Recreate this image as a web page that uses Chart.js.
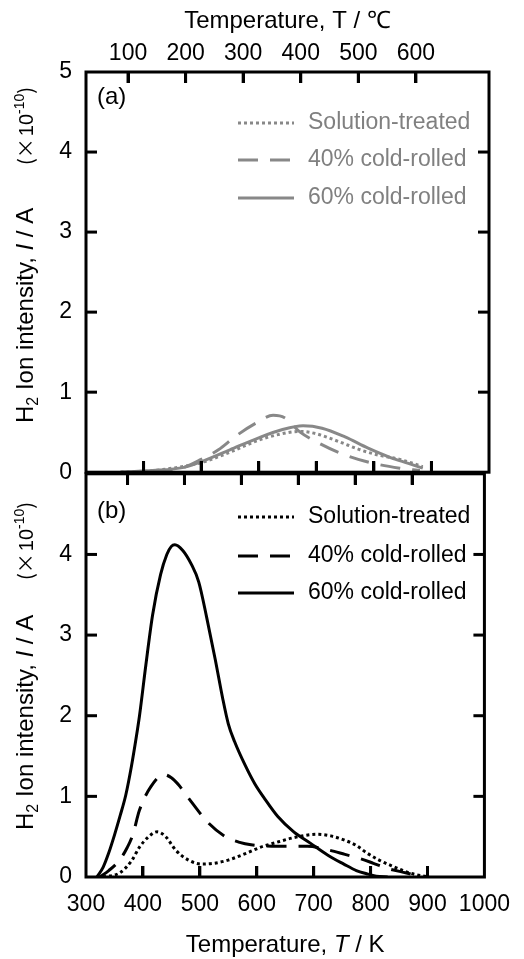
<!DOCTYPE html>
<html>
<head>
<meta charset="utf-8">
<script src="https://cdn.jsdelivr.net/npm/chart.js@4.4.0/dist/chart.umd.min.js"></script>
<style>
  body { margin: 0; background: #fff; }
  #wrap { position: relative; width: 524px; height: 959px; }
  canvas { position: absolute; left: 0; }
  #chartA { top: 0; }
  #chartB { top: 446px; }
  .tick { position: absolute; background: #000; z-index: 5; }
</style>
</head>
<body>
<div id="wrap">
  <canvas id="chartA" width="524" height="500"></canvas>
  <canvas id="chartB" width="524" height="513"></canvas>
</div>
<script>
// panel (a) - temperature (K) / intensity (x1e-10 A)
var tSolA = [360, 416, 450, 500, 550, 600, 640, 672, 700, 740, 776, 810, 845, 885];
var iSolA = [0, 0.02, 0.05, 0.12, 0.25, 0.40, 0.48, 0.51, 0.48, 0.38, 0.28, 0.21, 0.16, 0.07];
var t40A = [360, 440, 470, 500, 530, 560, 597, 625, 645, 672, 700, 741, 788, 845, 880];
var i40A = [0, 0.02, 0.06, 0.16, 0.28, 0.45, 0.62, 0.71, 0.68, 0.50, 0.38, 0.24, 0.13, 0.05, 0.02];
var t60A = [360, 416, 470, 500, 550, 600, 640, 677, 710, 750, 790, 830, 860, 885];
var i60A = [0, 0.02, 0.06, 0.13, 0.28, 0.43, 0.53, 0.58, 0.55, 0.44, 0.30, 0.18, 0.11, 0.05];

// panel (b)
var tSolB = [330, 359, 380, 394, 410, 425, 440, 458, 480, 503, 525, 550, 580, 607, 640, 666, 706, 730, 753, 775, 793, 815, 840, 868, 903];
var iSolB = [0, 0.05, 0.2, 0.37, 0.5, 0.56, 0.5, 0.33, 0.21, 0.16, 0.17, 0.21, 0.29, 0.37, 0.44, 0.49, 0.53, 0.51, 0.46, 0.39, 0.30, 0.21, 0.13, 0.05, 0];
var t40B = [324, 340, 359, 372, 382, 394, 414, 437, 450, 463, 480, 515, 545, 570, 590, 637, 689, 729, 755, 781, 805, 828, 863, 880];
var i40B = [0, 0.08, 0.21, 0.36, 0.52, 0.83, 1.12, 1.27, 1.23, 1.14, 0.98, 0.67, 0.5, 0.43, 0.40, 0.38, 0.38, 0.33, 0.28, 0.23, 0.17, 0.11, 0.05, 0.02];
var t60B = [319, 330, 340, 350, 360, 370, 380, 388, 394, 405, 417, 431, 442, 450, 456, 470, 485, 498, 512, 527, 540, 550, 561, 580, 597, 614, 637, 665, 694, 725, 753, 775, 793, 810, 830];
var i60B = [0, 0.12, 0.3, 0.52, 0.76, 1.02, 1.38, 1.72, 2.0, 2.62, 3.25, 3.75, 4.0, 4.1, 4.12, 4.05, 3.88, 3.66, 3.22, 2.7, 2.22, 1.9, 1.68, 1.38, 1.15, 0.97, 0.75, 0.56, 0.42, 0.27, 0.16, 0.08, 0.04, 0.01, 0];

var seriesNames = ['Solution-treated', '40% cold-rolled', '60% cold-rolled'];
var kelvinTicks = [400, 500, 600, 700, 800, 900];
var celsiusTicks = [100, 200, 300, 400, 500, 600];
var intensityTicks = [1, 2, 3, 4];

var FONT = '"Liberation Sans", Arial, sans-serif';
var GRAY = '#888888';
var TICK_LEN = 11;

function pts(t, v) {
  return t.map(function(x, i) { return { x: x, y: v[i] }; });
}

function makeSets(color, sol, c40, c60) {
  var base = { borderColor: color, borderWidth: 3, pointRadius: 0, cubicInterpolationMode: 'monotone' };
  return [
    Object.assign({ label: seriesNames[0], data: sol, borderDash: [3, 3] }, base),
    Object.assign({ label: seriesNames[1], data: c40, borderDash: [20, 12] }, base),
    Object.assign({ label: seriesNames[2], data: c60, borderDash: [] }, base)
  ];
}

// pixel of a value along a horizontal scale
function hPix(scale, a, v) {
  var p = scale.getPixelForValue(v);
  if (!isFinite(p)) p = a.left + (v - scale.min) / (scale.max - scale.min) * (a.right - a.left);
  return p;
}

// legend, panel tag, axis titles, frame, side ticks
function panelPlugin(cfg) {
  return {
    id: 'panel' + cfg.tag,
    afterDraw: function(chart) {
      var ctx = chart.ctx, a = chart.chartArea, s = chart.scales;
      ctx.save();
      ctx.font = '23px ' + FONT;
      ctx.textBaseline = 'middle';
      ctx.textAlign = 'left';
      chart.data.datasets.forEach(function(ds, i) {
        var y = cfg.legendY[i];
        ctx.strokeStyle = ds.borderColor;
        ctx.lineWidth = 3;
        ctx.setLineDash(ds.borderDash);
        ctx.beginPath();
        ctx.moveTo(238, y); ctx.lineTo(294, y);
        ctx.stroke();
        ctx.fillStyle = cfg.textColor;
        ctx.fillText(ds.label, 308, y);
      });
      ctx.setLineDash([]);

      ctx.fillStyle = '#000';
      ctx.font = '24px ' + FONT;
      ctx.fillText('(' + cfg.tag + ')', 97, cfg.tagY);

      // y title, rotated
      ctx.translate(33, cfg.titleStart);
      ctx.rotate(-Math.PI / 2);
      ctx.textBaseline = 'alphabetic';
      var pos = 0;
      function put(txt, font, dy) {
        ctx.font = font;
        ctx.fillText(txt, pos, dy || 0);
        pos += ctx.measureText(txt).width;
      }
      put('H', '24px ' + FONT);
      put('2', '16px ' + FONT, 5);
      put(' Ion intensity, ', '24px ' + FONT);
      put('I', 'italic 24px ' + FONT);
      put(' / A', '24px ' + FONT);
      pos = cfg.titleStart - cfg.titleEnd;
      ctx.textAlign = 'right';
      ctx.font = '20px "Noto Sans CJK JP"';
      ctx.fillText(')', pos, 0);
      pos -= ctx.measureText(')').width;
      ctx.font = '14px ' + FONT;
      ctx.fillText('-10', pos, -9);
      pos -= ctx.measureText('-10').width;
      ctx.font = '20px ' + FONT;
      ctx.fillText('10', pos, 0);
      pos -= ctx.measureText('10').width + 2;
      ctx.font = '20px "Noto Sans CJK JP"';
      ctx.fillText('(\u00d7', pos, 0);
      ctx.restore();

      if (cfg.bottomTitle) {
        ctx.save();
        ctx.fillStyle = '#000';
        ctx.textBaseline = 'middle';
        ctx.textAlign = 'left';
        var parts = [['Temperature, ', '24px ' + FONT], ['T', 'italic 24px ' + FONT], [' / K', '24px ' + FONT]];
        var w = 0;
        parts.forEach(function(p) { ctx.font = p[1]; w += ctx.measureText(p[0]).width; });
        var bx = (a.left + a.right) / 2 - w / 2;
        parts.forEach(function(p) { ctx.font = p[1]; ctx.fillText(p[0], bx, cfg.bottomTitleY); bx += ctx.measureText(p[0]).width; });
        ctx.restore();
      }

      ctx.save();
      ctx.fillStyle = '#000';
      kelvinTicks.forEach(function(v) {
        ctx.fillRect(hPix(s.x, a, v) - 1.5, a.bottom - TICK_LEN, 3, TICK_LEN);
      });
      celsiusTicks.forEach(function(v) {
        ctx.fillRect(hPix(s.xc, a, v) - 1.5, a.top, 3, TICK_LEN);
      });
      intensityTicks.forEach(function(v) {
        var py = s.y.getPixelForValue(v);
        ctx.fillRect(a.left, py - 1.5, TICK_LEN, 3);
        ctx.fillRect(a.right - TICK_LEN, py - 1.5, TICK_LEN, 3);
      });
      ctx.strokeStyle = '#000';
      ctx.lineWidth = 3;
      ctx.setLineDash([]);
      ctx.strokeRect(a.left, a.top, a.right - a.left, a.bottom - a.top);
      ctx.restore();
    }
  };
}

// inward top/bottom ticks also laid over the canvas, placed from the chart's scales
function overlayTicks(chart, canvasTop) {
  var a = chart.chartArea, s = chart.scales, wrap = document.getElementById('wrap');
  function mark(x, y) {
    var d = document.createElement('div');
    d.className = 'tick';
    d.style.left = Math.round(x - 1.5) + 'px';
    d.style.top = Math.round(canvasTop + y) + 'px';
    d.style.width = '3px';
    d.style.height = TICK_LEN + 'px';
    wrap.appendChild(d);
  }
  kelvinTicks.forEach(function(v) { mark(hPix(s.x, a, v), a.bottom - TICK_LEN); });
  celsiusTicks.forEach(function(v) { mark(hPix(s.xc, a, v), a.top); });
}

function buildChart(id, sets, opts, cfg) {
  return new Chart(document.getElementById(id).getContext('2d'), {
    type: 'line',
    data: { datasets: sets },
    options: {
      responsive: false,
      animation: false,
      layout: { padding: opts.padding },
      plugins: { legend: { display: false }, tooltip: { enabled: false } },
      scales: {
        x: {
          type: 'linear', position: 'bottom', min: 300, max: 1000,
          display: opts.showBottom,
          grid: { display: false, drawTicks: false },
          border: { display: false },
          ticks: {
            stepSize: 100, maxRotation: 0, padding: 14, color: '#000',
            font: { family: FONT, size: 23 },
            callback: function(v) { return String(v); }
          },
          afterFit: function(sc) { if (opts.showBottom) sc.height = opts.bottomHeight; }
        },
        xc: {
          type: 'linear', position: 'top', min: 300 - 273, max: 1000 - 273,
          display: opts.showTop,
          grid: { display: false, drawTicks: false },
          border: { display: false },
          title: { display: true, text: 'Temperature, T / \u2103', color: '#000', font: { family: FONT, size: 24 }, padding: { top: 7, bottom: 0 } },
          ticks: {
            maxRotation: 0, padding: 5, color: '#000',
            font: { family: FONT, size: 23 },
            callback: function(v) { return String(v); }
          },
          afterBuildTicks: function(sc) { sc.ticks = celsiusTicks.map(function(v) { return { value: v }; }); },
          afterFit: function(sc) { if (opts.showTop) sc.height = 72; }
        },
        y: {
          type: 'linear', position: 'left', min: 0, max: 5,
          grid: { display: false, drawTicks: false },
          border: { display: false },
          ticks: {
            stepSize: 1, padding: 14, color: '#000', font: { family: FONT, size: 23 },
            callback: function(v) { return (opts.hideTop && v === 5) ? '' : String(v); }
          },
          afterFit: function(sc) { sc.width = 86; }
        }
      }
    },
    plugins: [panelPlugin(cfg)]
  });
}

var chartA = buildChart('chartA',
  makeSets(GRAY, pts(tSolA, iSolA), pts(t40A, i40A), pts(t60A, i60A)),
  { padding: { top: 0, right: 35, bottom: 26, left: 0 }, showBottom: false, showTop: true, bottomHeight: 0, hideTop: false },
  { tag: 'a', legendY: [123, 160, 198], textColor: '#808080', tagY: 97, titleStart: 423, titleEnd: 87 });

var chartB = buildChart('chartB',
  makeSets('#000000', pts(tSolB, iSolB), pts(t40B, i40B), pts(t60B, i60B)),
  { padding: { top: 20, right: 35, bottom: 0, left: 0 }, showBottom: true, showTop: false, bottomHeight: 82, hideTop: true },
  { tag: 'b', legendY: [71, 110, 147], textColor: '#000', tagY: 65, titleStart: 384, titleEnd: 56, bottomTitle: true, bottomTitleY: 499 });

overlayTicks(chartA, 0);
overlayTicks(chartB, 446);
</script>
</body>
</html>
